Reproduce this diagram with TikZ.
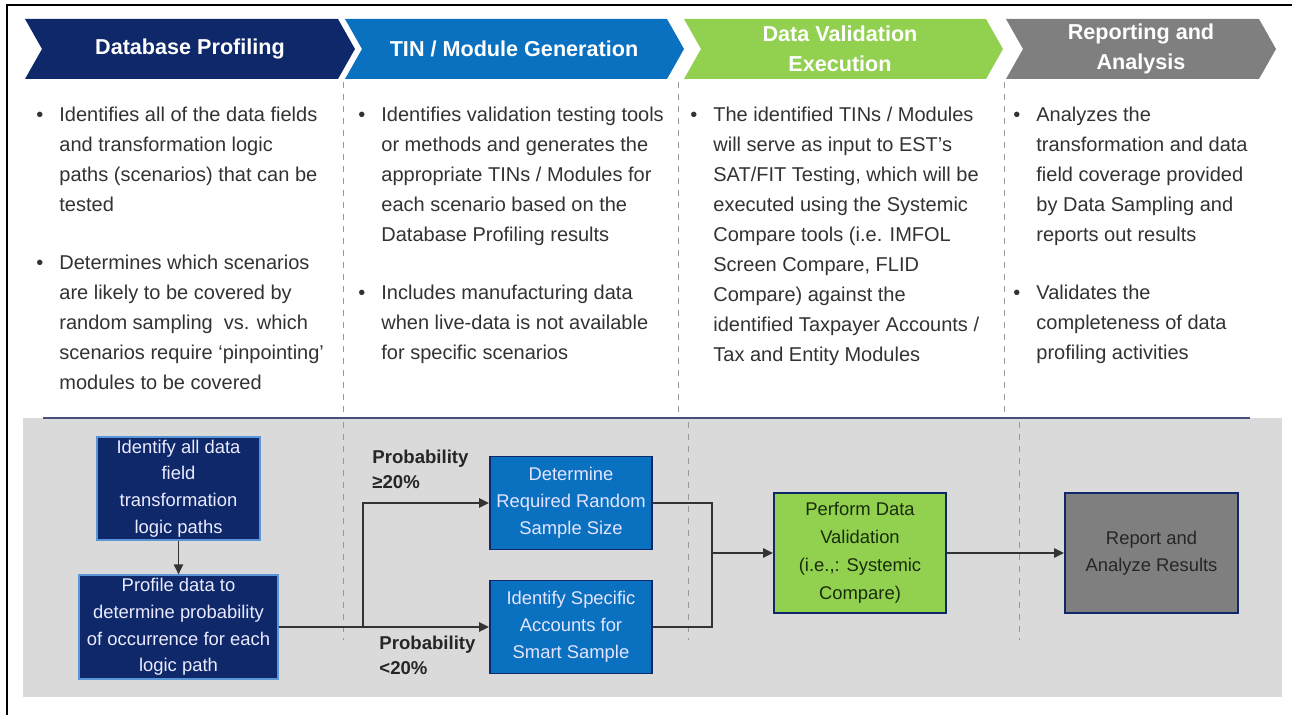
\documentclass[tikz,border=0pt]{standalone}
\usepackage{fontspec}
\setmainfont{Liberation Sans}
\usetikzlibrary{calc,arrows.meta}

\definecolor{navy}{RGB}{14,40,105}
\definecolor{tinblue}{RGB}{10,112,192}
\definecolor{vgreen}{RGB}{146,208,80}
\definecolor{slate}{RGB}{127,127,127}
\definecolor{panelgrey}{RGB}{218,218,218}
\definecolor{bodytext}{RGB}{50,50,50}
\definecolor{rulecol}{RGB}{70,82,125}
\definecolor{paleblue}{RGB}{90,150,215}
\definecolor{darkleaf}{RGB}{25,45,10}

\tikzset{
  headtext/.style={text=white, align=center, font=\fontsize{10.8}{15}\selectfont\bfseries},
  bul/.style={anchor=north west, inner sep=0, text=bodytext, font=\fontsize{10}{15}\selectfont},
  sep/.style={draw=black!40, dashed, line width=0.5pt},
  stepbox/.style={align=center, inner sep=0, line width=0.9pt, font=\fontsize{9.2}{13.4}\selectfont},
  navybox/.style={stepbox, fill=navy, draw=paleblue, line width=0.6pt, text=white!92!blue},
  bluebox/.style={stepbox, fill=tinblue, draw=navy, text=white!90!blue, minimum width=81pt, minimum height=46.5pt},
  problabel/.style={anchor=north west, inner sep=0, align=left, text=black!85, font=\fontsize{9.3}{12.5}\selectfont\bfseries},
  link/.style={draw=black!80, line width=0.9pt},
  tip/.style={-{Triangle[length=5pt,width=4.6pt]}},
}

\begin{document}
\begin{tikzpicture}[x=0.5pt, y=-0.5pt]
  \useasboundingbox (0,0) rectangle (1292,715);

  % frame
  \draw[line width=1pt] (7,715) -- (7,5) -- (1292,5);

  % phase chevrons
  \foreach \xl/\xr/\col in {25/338/navy, 345/667/tinblue, 684/986/vgreen, 1006/1259/slate}
    \fill[\col] (\xl,19) -- (\xr,19) -- (\xr+17,49) -- (\xr,79) -- (\xl,79) -- (\xl+17,49) -- cycle;

  \node[headtext] (h1) at (190,49) {Database Profiling};
  \node[headtext] (h2) at (514,49) {TIN / Module Generation};
  \node[headtext] (h3) at (840,49) {Data Validation\\Execution};
  \node[headtext] (h4) at (1141,49) {Reporting and\\Analysis};

  \foreach \x in {343, 678, 1004}
    \draw[sep] (\x,82) -- (\x,416);

  % bullet columns
  \node[bul] (c1) at (36,100) {\begin{tabular}{@{}l@{\hspace{8pt}}l@{}}
    \textbullet & Identifies all of the data fields\\
    & and transformation logic\\
    & paths (scenarios) that can be\\
    & tested\\[14pt]
    \textbullet & Determines which scenarios\\
    & are likely to be covered by\\
    & random sampling\ \ vs. which\\
    & scenarios require `pinpointing'\\
    & modules to be covered
  \end{tabular}};
  \node[bul] (c2) at (358,100) {\begin{tabular}{@{}l@{\hspace{8pt}}l@{}}
    \textbullet & Identifies validation testing tools\\
    & or methods and generates the\\
    & appropriate TINs / Modules for\\
    & each scenario based on the\\
    & Database Profiling results\\[14pt]
    \textbullet & Includes manufacturing data\\
    & when live-data is not available\\
    & for specific scenarios
  \end{tabular}};
  \node[bul] (c3) at (690,100) {\begin{tabular}{@{}l@{\hspace{8pt}}l@{}}
    \textbullet & The identified TINs / Modules\\
    & will serve as input to EST's\\
    & SAT/FIT Testing, which will be\\
    & executed using the Systemic\\
    & Compare tools (i.e. IMFOL\\
    & Screen Compare, FLID\\
    & Compare) against the\\
    & identified Taxpayer Accounts /\\
    & Tax and Entity Modules
  \end{tabular}};
  \node[bul] (c4) at (1013,100) {\begin{tabular}{@{}l@{\hspace{8pt}}l@{}}
    \textbullet & Analyzes the\\
    & transformation and data\\
    & field coverage provided\\
    & by Data Sampling and\\
    & reports out results\\[14pt]
    \textbullet & Validates the\\
    & completeness of data\\
    & profiling activities
  \end{tabular}};

  % flow panel
  \fill[panelgrey] (23,418) rectangle (1282,697);
  \draw[rulecol, line width=1pt] (43,418) -- (1250,418);
  \foreach \x in {343, 688, 1019}
    \draw[sep] (\x,422) -- (\x,640);

  \node[navybox, minimum width=81.5pt, minimum height=51.5pt] (paths) at (178.5,488.5)
    {Identify all data\\field\\transformation\\logic paths};
  \node[navybox, minimum width=99.5pt, minimum height=52pt] (profile) at (178.5,627)
    {Profile data to\\determine probability\\of occurrence for each\\logic path};
  \node[bluebox] (random) at (571,503) {Determine\\Required Random\\Sample Size};
  \node[bluebox] (smart) at (571,627) {Identify Specific\\Accounts for\\Smart Sample};
  \node[stepbox, fill=vgreen, draw=navy, text=darkleaf, minimum width=86pt, minimum height=60pt,
    font=\fontsize{9.2}{14}\selectfont] (validate) at (860,553)
    {Perform Data\\Validation\\(i.e.,: Systemic\\Compare)};
  \node[stepbox, fill=slate, draw=navy, text=black!85, minimum width=86.5pt, minimum height=60pt] (report)
    at (1151.5,553) {Report and\\Analyze Results};

  \node[problabel] (hi) at (372,450) {Probability\\≥20\%};
  \node[problabel] (lo) at (379,636) {Probability\\<20\%};

  \coordinate (split) at (363,627);
  \coordinate (join) at (712,553);
  \draw[link, tip] (paths) -- (profile);
  \draw[link] (profile) -- (split);
  \draw[link, tip] (split) |- (random);
  \draw[link, tip] (split) -- (smart);
  \draw[link] (random) -| (join);
  \draw[link] (smart) -| (join);
  \draw[link, tip] (join) -- (validate);
  \draw[link, tip] (validate) -- (report);
\end{tikzpicture}
\end{document}
